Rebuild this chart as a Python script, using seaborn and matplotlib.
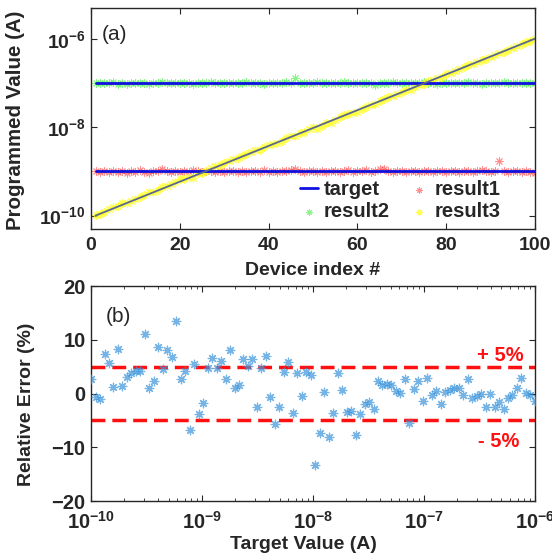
import numpy as np
import pandas as pd
import matplotlib
matplotlib.use('Agg')
import matplotlib.pyplot as plt
from matplotlib.ticker import FixedLocator, FuncFormatter, LogLocator, NullFormatter
import seaborn as sns

# ---- data ----
device_idx = np.arange(1, 101)
level1 = 1e-9     # constant target for result1
level2 = 1e-7     # constant target for result2
ramp_start, ramp_end = 1e-10, 1e-6   # target sweep for result3 / panel (b)

# percent deviation of result1 / result2 from their constant targets
result1_err = [2, -3, 4, -1, 3, -4, 1, -6, 2, -2,
               5, -3, -7, 1, 3, 14, 4, -2, 3, -1,
               2, -4, 5, 1, -3, 2, 4, -2, 1, -5,
               3, 2, -1, 4, -3, 1, 2, -2, 5, -1,
               3, -4, 2, 1, 6, 12, 3, -2, 1, 4,
               -3, 2, -1, 3, 1, -4, 2, 5, -2, 1,
               3, 9, -1, 2, 14, 13, 3, -2, 4, 1,
               -3, 2, 1, -1, 4, 2, -3, 1, 3, -2,
               2, 4, -1, 1, 3, -2, 2, 5, 1, -3,
               2, 68, 1, -4, 2, 3, -2, 1, -3, -6]
result2_err = [1, -2, 2, -1, 3, -3, 1, -5, 2, -1,
               2, 1, -3, 2, -2, 3, 1, -1, 2, -2,
               1, 2, -3, 1, 2, -1, 3, -2, 1, 2,
               -1, 2, 1, -2, 3, 1, -1, 2, -3, 1,
               2, -1, 1, 3, -2, 28, 2, -1, 1, -2,
               3, 1, -1, 2, -2, 1, 3, -1, 2, 1,
               -2, 1, 2, -9, 1, -1, 2, 3, -2, 1,
               2, -1, 1, -2, 3, 1, -1, -5, 2, 1,
               -2, 2, 1, -1, 3, -2, 1, -6, 2, 1,
               -1, 2, 3, -2, 1, 2, -1, 1, -2, 1]
# relative error of result3 (panel b), percent
result3_err = [2.7, -0.7, -1.0, 7.3, 5.7, 1.2, 8.3, 1.4, 3.1, 3.8,
               4.2, 4.2, 11.1, 1.0, 2.3, 8.7, 4.6, 8.1, 6.8, 13.5,
               2.7, 4.2, -6.8, 5.5, -3.8, -1.8, 4.7, 6.6, 4.7, 6.0,
               2.7, 8.1, 1.0, 1.6, 6.4, 5.1, 6.4, -2.5, 4.7, 7.0,
               -0.7, -5.7, -2.5, 4.0, 5.9, -3.6, 3.8, -0.5, 4.0, 3.4,
               -13.3, -7.4, 0.2, -8.1, -3.6, 3.8, 0.6, -3.5, -3.2, -7.8,
               -3.8, -2.0, -1.6, -2.9, 2.4, 1.5, 1.8, 1.6, 0.5, 0.1,
               2.7, -5.5, 0.9, 2.3, -1.4, 2.8, -0.3, 0.5, -1.9, 0.3,
               0.6, 1.0, 1.0, -0.2, 2.7, -0.8, -0.5, -0.1, -2.5, -0.1,
               -2.5, -1.5, -2.9, -0.8, -0.3, 1.0, 2.8, 0.1, -0.2, -1.3]
err_band = 5

target_ramp = np.logspace(np.log10(ramp_start), np.log10(ramp_end), len(device_idx))
target1 = np.full(len(device_idx), level1)
target2 = np.full(len(device_idx), level2)

df = pd.DataFrame({
    'idx': device_idx,
    't1': target1, 't2': target2, 't3': target_ramp,
    'r1': target1 * (1 + np.array(result1_err) / 100),
    'r2': target2 * (1 + np.array(result2_err) / 100),
    'r3': target_ramp * (1 + np.array(result3_err) / 100),
    'err': result3_err,
})

# ---- style ----
sns.set_style('ticks')
plt.rcParams['font.family'] = ['Liberation Sans', 'DejaVu Sans']
plt.rcParams['font.weight'] = 'bold'
plt.rcParams['axes.labelweight'] = 'bold'
plt.rcParams['mathtext.fontset'] = 'custom'
plt.rcParams['mathtext.bf'] = 'Liberation Sans:bold'
plt.rcParams['mathtext.rm'] = 'Liberation Sans:bold'
plt.rcParams['mathtext.default'] = 'bf'
plt.rcParams['xtick.direction'] = 'in'
plt.rcParams['ytick.direction'] = 'in'
plt.rcParams['axes.linewidth'] = 1.0
plt.rcParams['axes.edgecolor'] = '#262626'

asterisk = (8, 2, 0)

fig = plt.figure(figsize=(5.52, 5.57), dpi=100)
ax1 = fig.add_axes([0.165, 0.589, 0.804, 0.397])
ax2 = fig.add_axes([0.165, 0.1005, 0.804, 0.386])

def pow_fmt(v, pos):
    return r'$\mathbf{10^{%d}}$' % int(round(np.log10(v)))

# ---- panel (a) ----
sns.scatterplot(data=df, x='idx', y='r1', ax=ax1, marker=asterisk, color='#ff3030',
                s=28, linewidth=0.7, alpha=0.55, label='result1', zorder=2)
sns.scatterplot(data=df, x='idx', y='r2', ax=ax1, marker=asterisk, color='#22ee22',
                s=28, linewidth=0.7, alpha=0.55, label='result2', zorder=2)
sns.scatterplot(data=df, x='idx', y='r3', ax=ax1, marker=asterisk, color='#ffff20',
                s=28, linewidth=0.9, alpha=0.75, label='result3', zorder=2)
sns.lineplot(data=df, x='idx', y='t1', ax=ax1, color='#1010e0', lw=2, label='target', zorder=3)
sns.lineplot(data=df, x='idx', y='t2', ax=ax1, color='#1010e0', lw=2, zorder=3)
sns.lineplot(data=df, x='idx', y='t3', ax=ax1, color='#5a6890', lw=1.3, zorder=3)

ax1.set_yscale('log')
ax1.set_xlim(0, 100)
ax1.set_ylim(5e-11, 5e-6)
ax1.set_xticks([0, 20, 40, 60, 80, 100])
ax1.yaxis.set_major_locator(FixedLocator([1e-10, 1e-8, 1e-6]))
ax1.yaxis.set_minor_locator(FixedLocator([]))
ax1.yaxis.set_major_formatter(FuncFormatter(pow_fmt))
ax1.tick_params(axis='both', which='both', top=True, right=True, labelsize=14, length=4)
ax1.tick_params(axis='x', pad=6)
ax1.tick_params(axis='y', pad=4)
ax1.set_xlabel('Device index #', fontsize=14)
ax1.set_ylabel('Programmed Value (A)', fontsize=14.8)
ax1.xaxis.set_label_coords(0.5, -0.148)
ax1.yaxis.set_label_coords(-0.148, 0.489)
ax1.text(0.025, 0.878, '(a)', transform=ax1.transAxes, fontsize=15, fontweight='normal',
         va='center')

h, l = ax1.get_legend_handles_labels()
lab2h = dict(zip(l, h))
order = ['target', 'result2', 'result1', 'result3']
ax1.legend([lab2h[k] for k in order], order, ncol=2, loc='lower right', frameon=False,
           fontsize=14.5, handlelength=0.9, handletextpad=0.3, columnspacing=1.0,
           labelspacing=0.15, borderaxespad=0.0, markerscale=0.8,
           bbox_to_anchor=(0.94, 0.0))

# ---- panel (b) ----
sns.scatterplot(data=df, x='t3', y='err', ax=ax2, marker=asterisk, color='#3d95dc',
                s=38, linewidth=0.9, alpha=0.7, zorder=3)
ax2.axhline(err_band, color='#ff1010', lw=2.5, ls=(0, (4, 2)), zorder=2)
ax2.axhline(-err_band, color='#ff1010', lw=2.5, ls=(0, (4, 2)), zorder=2)
ax2.set_xscale('log')
ax2.set_xlim(1e-10, 1e-6)
ax2.set_ylim(-20, 20)
ax2.set_yticks([-20, -10, 0, 10, 20])
ax2.xaxis.set_major_locator(LogLocator(base=10, numticks=10))
ax2.xaxis.set_minor_locator(LogLocator(base=10, subs=np.arange(2, 10), numticks=20))
ax2.xaxis.set_minor_formatter(NullFormatter())
ax2.xaxis.set_major_formatter(FuncFormatter(pow_fmt))
ax2.tick_params(axis='both', which='both', top=True, right=True, labelsize=14.5)
ax2.tick_params(axis='x', pad=7)
ax2.tick_params(axis='y', pad=4)
ax2.tick_params(which='major', length=4)
ax2.tick_params(which='minor', length=2.5)
ax2.set_xlabel('Target Value (A)', fontsize=14)
ax2.set_ylabel('Relative Error (%)', fontsize=14)
ax2.xaxis.set_label_coords(0.478, -0.163)
ax2.yaxis.set_label_coords(-0.126, 0.451)
ax2.text(0.034, 0.86, '(b)', transform=ax2.transAxes, fontsize=15, fontweight='normal',
         va='center')
ax2.text(0.975, 7.0, '+ 5%', transform=ax2.get_yaxis_transform(), color='#ff1010',
         fontsize=14.5, fontweight='bold', ha='right', va='center')
ax2.text(0.964, -9.0, '- 5%', transform=ax2.get_yaxis_transform(), color='#ff1010',
         fontsize=14.5, fontweight='bold', ha='right', va='center')

fig.savefig('out.png', dpi=100)
